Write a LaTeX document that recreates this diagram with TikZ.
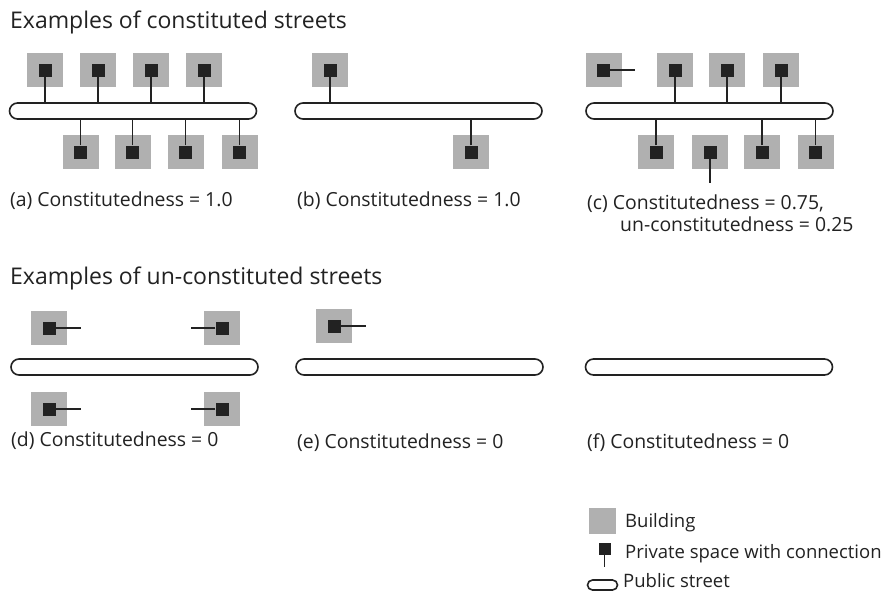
\documentclass[tikz,border=0pt]{standalone}
\usepackage{fontspec}
\setmainfont{Open Sans}
\definecolor{bgray}{HTML}{B0B0B0}
\definecolor{pblack}{HTML}{222222}
\definecolor{tgray}{HTML}{222222}
\newcommand\housebox[3]{\node[bldg] (#1) at (#2,#3) {}; \node[priv] (#1p) at (#2,#3) {};}
\begin{document}
\begin{tikzpicture}[x=1pt,y=-1pt,
 bldg/.style={fill=bgray, draw=none, minimum width=36pt, minimum height=34pt, inner sep=0pt},
 priv/.style={fill=pblack, draw=none, minimum size=13pt, inner sep=0pt},
 street/.style={draw=pblack, line width=1.6pt, fill=white, rounded corners=8pt, minimum width=247pt, minimum height=16pt, inner sep=0pt},
 conn/.style={line width=1.8pt, draw=pblack},
 lbl/.style={anchor=base west, font=\fontsize{19.4}{23}\selectfont, inner sep=0pt, text=tgray},
 keylbl/.style={anchor=base west, font=\fontsize{18.5}{22}\selectfont, inner sep=0pt, text=tgray},
 ttl/.style={anchor=base west, font=\fontsize{23}{27}\selectfont, inner sep=0pt, text=tgray}]
\useasboundingbox[fill=white] (0,0) rectangle (882,590);

% titles
\node[ttl] (t1) at (10,28) {Examples of constituted streets};
\node[ttl] (t2) at (10,284) {Examples of un-constituted streets};

% ---------- (a)
\node[street] (sa) at (133,111) {};
\housebox{a1}{45}{70}\housebox{a2}{98}{70}\housebox{a3}{151}{70}\housebox{a4}{204}{70}
\housebox{a5}{80.5}{152}\housebox{a6}{132.5}{152}\housebox{a7}{185.5}{152}\housebox{a8}{239.5}{152}
\foreach \n in {a1,a2,a3,a4} \draw[conn] (\n p.south) -- (\n p.south |- sa.north);
\foreach \n in {a5,a6,a7,a8} \draw[conn] (\n p.north) -- (\n p.north |- sa.south);
\node[lbl] (la) at (10,206) {(a) Constitutedness = 1.0};

% ---------- (b)
\node[street] (sb) at (418.5,111) {};
\housebox{b1}{330}{70}
\housebox{b2}{471}{152}
\draw[conn] (b1p.south) -- (b1p.south |- sb.north);
\draw[conn] (b2p.north) -- (b2p.north |- sb.south);
\node[lbl] (lb) at (297,206) {(b) Constitutedness = 1.0};

% ---------- (c)
\node[street] (sc) at (709.5,111) {};
\housebox{c1}{603.5}{70}\housebox{c2}{675}{70}\housebox{c3}{727}{70}\housebox{c4}{781}{70}
\housebox{c5}{656}{152}\housebox{c6}{710}{152}\housebox{c7}{762}{152}\housebox{c8}{815.5}{152}
\coordinate (c1e) at (635,70);
\coordinate (c6e) at (710,183);
\draw[conn] (c1p.east) -- (c1e);
\foreach \n in {c2,c3,c4} \draw[conn] (\n p.south) -- (\n p.south |- sc.north);
\foreach \n in {c5,c7,c8} \draw[conn] (\n p.north) -- (\n p.north |- sc.south);
\draw[conn] (c6p.south) -- (c6e);
\node[lbl] (lc) at (587,209) {(c) Constitutedness = 0.75,};
\node[lbl] (lc2) at (620,231) {un-constitutedness = 0.25};

% ---------- (d)
\node[street] (sd) at (134.5,367) {};
\housebox{d1}{49}{328}\housebox{d2}{222}{328}
\housebox{d3}{49}{409}\housebox{d4}{222}{409}
\coordinate (d1e) at (81,328);
\coordinate (d2e) at (191,328);
\coordinate (d3e) at (81,409);
\coordinate (d4e) at (191,409);
\draw[conn] (d1p.east) -- (d1e);
\draw[conn] (d2p.west) -- (d2e);
\draw[conn] (d3p.east) -- (d3e);
\draw[conn] (d4p.west) -- (d4e);
\node[lbl] (ld) at (11,446) {(d) Constitutedness = 0};

% ---------- (e)
\node[street] (se) at (419.5,367) {};
\housebox{e1}{334}{326}
\coordinate (e1e) at (366,326);
\draw[conn] (e1p.east) -- (e1e);
\node[lbl] (le) at (297,448) {(e) Constitutedness = 0};

% ---------- (f)
\node[street] (sf) at (709,367) {};
\node[lbl] (lf) at (587,448) {(f) Constitutedness = 0};

% ---------- legend
\node[bldg, minimum width=27pt, minimum height=26pt] (kb) at (602.5,521) {};
\node[keylbl] (kbt) at (625,527) {Building};
\node[priv, minimum size=12pt] (kp) at (604.5,549) {};
\coordinate (kpe) at (604.5,567);
\draw[conn] (kp.south) -- (kpe);
\node[keylbl] (kpt) at (625,558) {Private space with connection};
\node[street, minimum width=30pt, minimum height=10pt, rounded corners=5pt] (ks) at (602.5,585) {};
\node[keylbl] (kst) at (623,587) {Public street};
\end{tikzpicture}
\end{document}
